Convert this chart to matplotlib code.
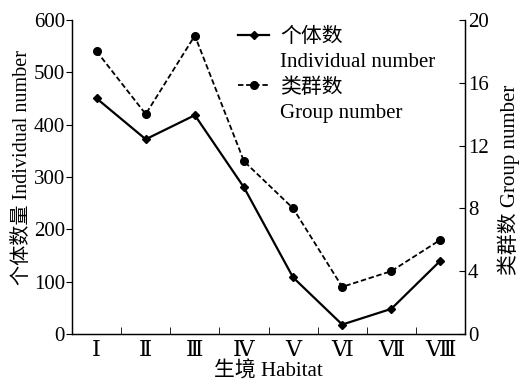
import matplotlib
matplotlib.use("Agg")
import matplotlib.pyplot as plt
from matplotlib.lines import Line2D
import numpy as np

plt.rcParams["font.family"] = ["Liberation Serif", "Noto Sans CJK SC"]
plt.rcParams["font.size"] = 15

habitats = ["Ⅰ", "Ⅱ", "Ⅲ", "Ⅳ", "Ⅴ", "Ⅵ", "Ⅶ", "Ⅷ"]
individual_number = [450, 372, 418, 280, 108, 18, 48, 140]
group_number = [18, 14, 19, 11, 8, 3, 4, 6]

x = np.arange(len(habitats))

fig = plt.figure(figsize=(5.26, 3.83), dpi=100)
ax = fig.add_axes([0.137, 0.128, 0.747, 0.82])
ax2 = ax.twinx()

l1, = ax.plot(x, individual_number, color="black", lw=1.6, marker="D",
              markersize=4)
l2, = ax2.plot(x, group_number, color="black", lw=1.3, ls=(0, (3, 1.5)),
               marker="o", markersize=5.5)

ax.set_xlim(-0.5, 7.5)
ax.set_ylim(0, 600)
ax.set_yticks(range(0, 601, 100))
ax2.set_ylim(0, 20)
ax2.set_yticks(range(0, 21, 4))

ax.set_xticks(x)
ax.set_xticklabels(habitats, family=["Liberation Serif", "DejaVu Serif"],
                   fontsize=16)
ax.tick_params(axis="x", length=0, pad=6)
ax.set_xticks(np.arange(0.5, 7.5, 1), minor=True)
ax.tick_params(axis="x", which="minor", direction="in", length=5)
ax.tick_params(axis="y", direction="out", length=4, pad=1)
ax2.tick_params(axis="y", direction="in", length=4, pad=2)

for a in (ax, ax2):
    a.spines["top"].set_visible(False)
    for s in a.spines.values():
        s.set_linewidth(0.9)

ax.set_xlabel("生境 Habitat", labelpad=0)
ax.set_ylabel("个体数量 Individual number", fontsize=14.5)
ax.yaxis.set_label_coords(-0.102, 0.53)
ax2.set_ylabel("类群数 Group number")
ax2.yaxis.set_label_coords(1.082, 0.49)

# two-line legend entries: Chinese name beside the marker, English below
blank = Line2D([], [], alpha=0)
ax.legend([l1, blank, l2, blank],
          ["个体数", "Individual number", "类群数", "Group number"],
          loc="upper left", bbox_to_anchor=(0.375, 1.035), frameon=False,
          handlelength=1.5, labelspacing=0.27, handletextpad=0.5)

fig.savefig("out.png", dpi=100)
